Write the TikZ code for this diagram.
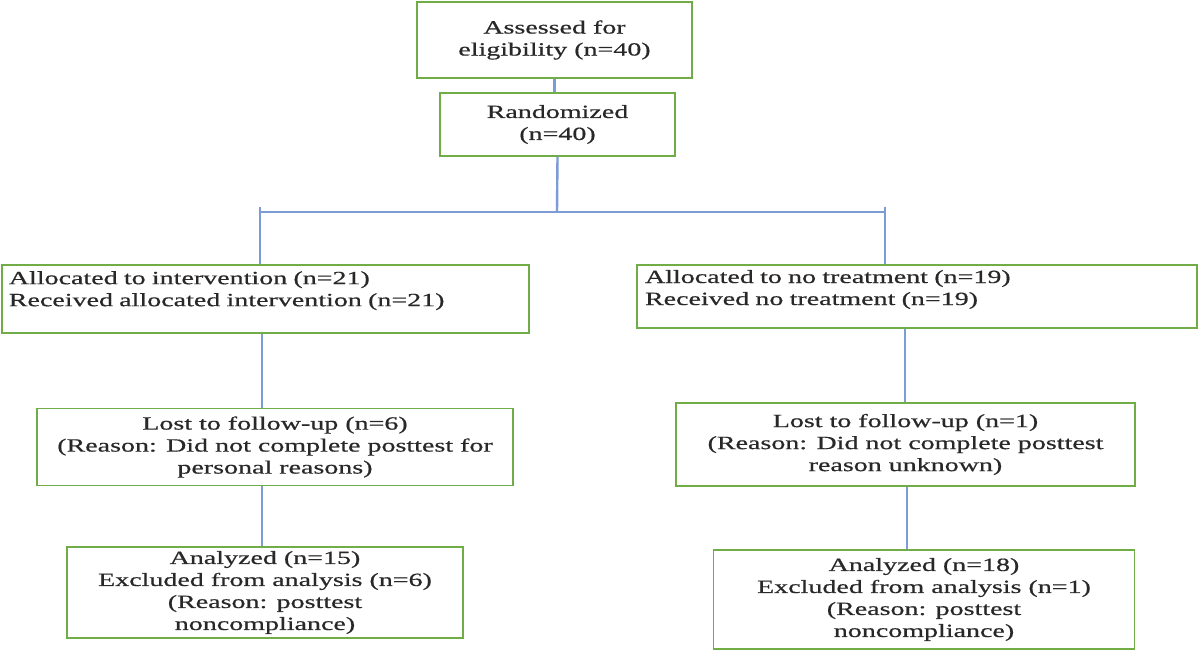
\documentclass[tikz,border=0pt]{standalone}
\usepackage{fontspec}
\setmainfont{Liberation Serif}[FakeStretch=1.5,FakeBold=0.6]
\usetikzlibrary{positioning}
\definecolor{boxgreen}{RGB}{112,173,71}
\definecolor{lineblue}{RGB}{125,155,212}
\definecolor{textgray}{RGB}{40,40,40}
\begin{document}
\begin{tikzpicture}[x=0.75pt,y=-0.75pt]
      \tikzstyle{box} = [draw=boxgreen, line width=1.2pt, text=textgray, inner sep=0pt,
        font=\fontsize{14}{16.5}\selectfont, align=center]
      \tikzstyle{link} = [draw=lineblue, line width=1.8pt]

      \useasboundingbox (0,0) rectangle (1200,652);

      \node (assess) [box, minimum width=206pt, minimum height=57pt] at (554.5,40) {Assessed for\\eligibility (n=40)};
      \node (random) [box, minimum width=176pt, minimum height=47pt] at (557.5,124.5) {Randomized\\(n=40)};

      \node (allocL) [box, minimum width=395pt, minimum height=51pt, align=left, text width=385pt] at (265.5,299) {Allocated to intervention (n=21)\\Received allocated intervention (n=21)\\[-6pt]\strut};
      \node (allocR) [box, minimum width=420pt, minimum height=47pt, align=left, text width=408pt] at (917,296.5) {Allocated to no treatment (n=19)\\Received no treatment (n=19)\\[-8pt]\strut};

      \node (lostL) [box, minimum width=357pt, minimum height=58pt] at (275,447) {Lost to follow-up (n=6)\\(Reason: Did not complete posttest for\\personal reasons)};
      \node (lostR) [box, minimum width=344pt, minimum height=62pt] at (905.5,444.5) {Lost to follow-up (n=1)\\(Reason: Did not complete posttest\\reason unknown)};

      \node (analL) [box, minimum width=297pt, minimum height=68pt] at (265,592.5) {Analyzed (n=15)\\Excluded from analysis (n=6)\\(Reason: posttest\\noncompliance)};
      \node (analR) [box, minimum width=316pt, minimum height=74pt] at (924,599.5) {Analyzed (n=18)\\Excluded from analysis (n=1)\\(Reason: posttest\\noncompliance)};

      \coordinate (split) at (557,212);
      \coordinate (tickL) at (260,207);
      \coordinate (tickR) at (885,207);

      \draw [link] (assess.south) -- (assess.south |- random.north);
      \draw [link] (random.south) -- (split);
      \draw [link, line width=1pt] (tickL |- split) -- (tickR |- split);
      \draw [link] (tickL) -- (allocL.north -| tickL);
      \draw [link] (tickR) -- (allocR.north -| tickR);
      \draw [link] (allocL.south -| 262,0) -- (lostL.north -| 262,0);
      \draw [link] (allocR.south -| 905,0) -- (lostR.north -| 905,0);
      \draw [link] (lostL.south -| 262,0) -- (analL.north -| 262,0);
      \draw [link] (lostR.south -| 907,0) -- (analR.north -| 907,0);
\end{tikzpicture}
\end{document}
